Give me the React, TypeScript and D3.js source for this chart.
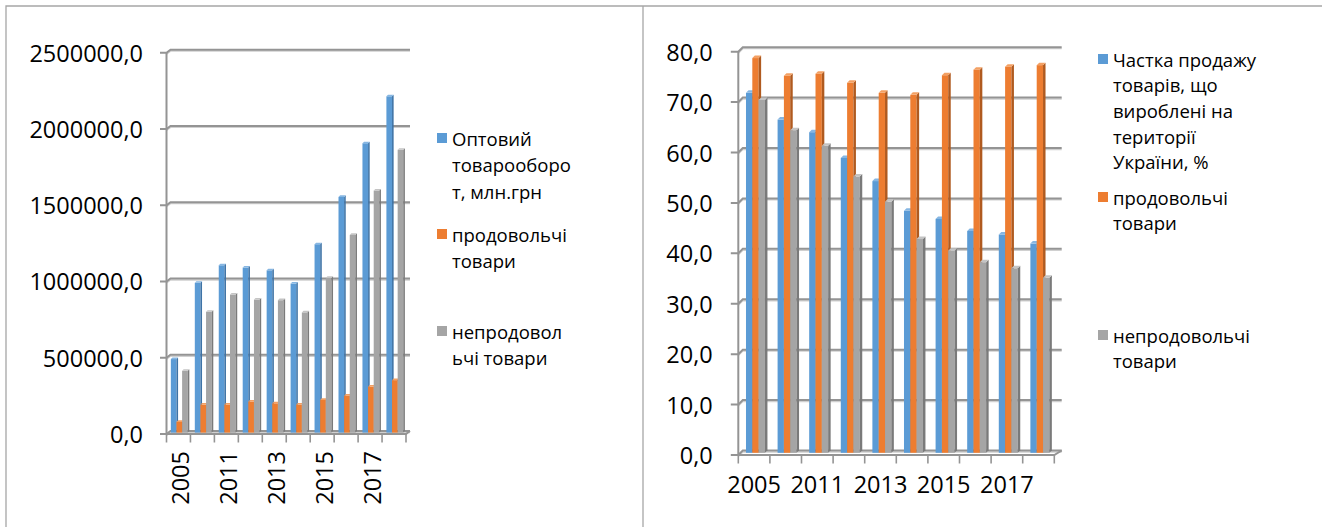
import React from 'react';
import * as d3 from 'd3';

const categories = ['2005', '2010', '2011', '2012', '2013', '2014', '2015', '2016', '2017', '2018'];
const shownLabels = ['2005', '2011', '2013', '2015', '2017'];

const wholesaleTurnover = [482000, 982000, 1097000, 1082000, 1064000, 977000, 1235000, 1545000, 1897000, 2205000];
const foodTurnover = [70000, 184000, 184000, 204000, 192000, 184000, 214000, 242000, 302000, 344000];
const nonFoodTurnover = [405000, 792000, 905000, 872000, 868000, 788000, 1014000, 1296000, 1587000, 1854000];
const leftTicks = [0, 500000, 1000000, 1500000, 2000000, 2500000];

const domesticShare = [71.4, 66.1, 63.6, 58.5, 53.9, 48.0, 46.4, 44.0, 43.3, 41.5];
const foodShare = [78.3, 74.8, 75.2, 73.4, 71.4, 71.0, 74.9, 76.0, 76.6, 76.9];
const nonFoodShare = [70.0, 64.0, 60.9, 54.8, 49.8, 42.4, 40.1, 37.8, 36.6, 34.7];
const rightTicks = [0, 10, 20, 30, 40, 50, 60, 70, 80];

const leftLegend = [
  ['Оптовий', 'товарооборо', 'т, млн.грн'],
  ['продовольчі', 'товари'],
  ['непродовол', 'ьчі товари'],
];
const rightLegend = [
  ['Частка продажу', 'товарів, що', 'вироблені на', 'території', 'України, %'],
  ['продовольчі', 'товари'],
  ['непродовольчі', 'товари'],
];

const COLORS = [
  { front: '#5b9bd5', side: '#3e73a6', top: '#86b6e2' },
  { front: '#ed7d31', side: '#b05a1f', top: '#f3a063' },
  { front: '#a5a5a5', side: '#7a7a7a', top: '#c4c4c4' },
];

const FONT = "'Open Sans', 'Noto Sans', sans-serif";
const fmt = (v: number) => v.toFixed(1).replace('.', ',');

type ChartProps = {
  series: number[][];
  ticks: number[];
  yDomain: [number, number];
  yRange: [number, number];
  xRange: [number, number];
  back: [number, number];
  gridEnd: number;
  barOff: [number, number];
  depth: [number, number];
  barStart: number;
  barW: number;
  tickLen: number;
  labelRight: number;
  rotated: boolean;
  xLabelPos: number;
  legend: string[][];
  legendX: number;
  legendTextX: number;
  legendY: number[];
  legendLine: number;
  legendFont: number;
};

function Chart3D(p: ChartProps) {
  const y = d3.scaleLinear().domain(p.yDomain).range(p.yRange);
  const x = d3.scaleBand<string>().domain(categories).range(p.xRange).paddingInner(0).paddingOuter(0);
  const bw = x.bandwidth();
  const axisX = p.xRange[0];
  const floorY = p.yRange[0];
  const [bx, by] = p.back;
  const [fx, fy] = p.barOff;
  const [dx, dy] = p.depth;

  const bars: JSX.Element[] = [];
  categories.forEach((c, i) => {
    p.series.forEach((s, si) => {
      const col = COLORS[si];
      const x0 = (x(c) as number) + bw * (p.barStart + si * p.barW) + fx;
      const w = bw * p.barW;
      const yb = floorY + fy;
      const yt = y(s[i]) + fy;
      bars.push(
        <g key={`${c}-${si}`}>
          <rect x={x0} y={yt} width={w} height={yb - yt} fill={col.front} />
          <polygon
            points={`${x0 + w},${yb} ${x0 + w + dx},${yb + dy} ${x0 + w + dx},${yt + dy} ${x0 + w},${yt}`}
            fill={col.side}
          />
          <polygon
            points={`${x0},${yt} ${x0 + dx},${yt + dy} ${x0 + w + dx},${yt + dy} ${x0 + w},${yt}`}
            fill={col.top}
          />
        </g>
      );
    });
  });

  const xEnd = p.xRange[1];
  return (
    <g>
      {p.ticks.map((t) => {
        const yy = y(t);
        return (
          <g key={`g${t}`}>
            <polyline
              points={`${axisX},${yy + 1.4} ${axisX + bx},${yy + by + 1.4} ${p.gridEnd},${yy + by + 1.4}`}
              fill="none"
              stroke="#d0d0d0"
              strokeWidth={1.5}
            />
            <polyline
              points={`${axisX - p.tickLen},${yy} ${axisX},${yy} ${axisX + bx},${yy + by} ${p.gridEnd},${yy + by}`}
              fill="none"
              stroke="#949494"
              strokeWidth={2}
            />
            <text
              x={p.labelRight}
              y={yy}
              textAnchor="end"
              dominantBaseline="central"
              fontFamily={FONT}
              fontSize={23.5}
              fill="#000"
            >
              {fmt(t)}
            </text>
          </g>
        );
      })}
      <polyline
        points={`${axisX},${floorY} ${xEnd},${floorY} ${p.gridEnd},${floorY + by}`}
        fill="none"
        stroke="#949494"
        strokeWidth={2}
      />
      <line x1={axisX} x2={axisX} y1={floorY} y2={y(p.yDomain[1])} stroke="#949494" strokeWidth={2} />
      {[...categories.map((c) => x(c) as number), xEnd].map((tx, i) => (
        <line key={`xt${i}`} x1={tx} x2={tx} y1={floorY} y2={floorY + 8.5} stroke="#949494" strokeWidth={1.6} />
      ))}
      {bars}
      {shownLabels.map((lab) => {
        const cx = (x(lab) as number) + bw / 2;
        return p.rotated ? (
          <text
            key={`xl${lab}`}
            transform={`translate(${cx + 1.5},${p.xLabelPos}) rotate(-90)`}
            textAnchor="end"
            dominantBaseline="central"
            fontFamily={FONT}
            fontSize={23.5}
            fill="#000"
          >
            {lab}
          </text>
        ) : (
          <text
            key={`xl${lab}`}
            x={cx}
            y={p.xLabelPos}
            textAnchor="middle"
            fontFamily={FONT}
            fontSize={23.5}
            fill="#000"
          >
            {lab}
          </text>
        );
      })}
      {p.legend.map((lines, li) => (
        <g key={`lg${li}`}>
          <rect x={p.legendX} y={p.legendY[li] - 5} width={10} height={10} fill={COLORS[li].front} />
          {lines.map((ln, k) => (
            <text
              key={k}
              x={p.legendTextX}
              y={p.legendY[li] + k * p.legendLine}
              dominantBaseline="central"
              fontFamily={FONT}
              fontSize={p.legendFont}
              fill="#000"
            >
              {ln}
            </text>
          ))}
        </g>
      ))}
    </g>
  );
}

export default function App() {
  return (
    <svg
      width={1322}
      height={527}
      style={{ position: 'absolute', left: 0, top: 0, background: '#fff' }}
    >
      <rect x={0} y={0} width={1322} height={527} fill="#fff" />
      <polyline points="6,527 6,6 1322,6" fill="none" stroke="#a6a6a6" strokeWidth={1.3} />
      <line x1={643} x2={643} y1={6} y2={527} stroke="#a6a6a6" strokeWidth={1.3} />
      <Chart3D
        series={[wholesaleTurnover, foodTurnover, nonFoodTurnover]}
        ticks={leftTicks}
        yDomain={[0, 2500000]}
        yRange={[434, 52.7]}
        xRange={[166.5, 406]}
        back={[4, -3]}
        gridEnd={410}
        barOff={[1, -1.4]}
        depth={[1.6, -1.6]}
        barStart={0.14}
        barW={0.235}
        tickLen={6.5}
        labelRight={143}
        rotated={true}
        xLabelPos={451}
        legend={leftLegend}
        legendX={437}
        legendTextX={452}
        legendY={[138, 234, 331]}
        legendLine={26.5}
        legendFont={18.5}
      />
      <Chart3D
        series={[domesticShare, foodShare, nonFoodShare]}
        ticks={rightTicks}
        yDomain={[0, 80]}
        yRange={[455, 51.7]}
        xRange={[738.3, 1054.3]}
        back={[4.5, -4.5]}
        gridEnd={1061.7}
        barOff={[2, -2.2]}
        depth={[2.5, -2.5]}
        barStart={0.18}
        barW={0.2}
        tickLen={7.5}
        labelRight={712.7}
        rotated={false}
        xLabelPos={493}
        legend={rightLegend}
        legendX={1098}
        legendTextX={1113}
        legendY={[59, 197, 335]}
        legendLine={25.7}
        legendFont={18.5}
      />
    </svg>
  );
}
